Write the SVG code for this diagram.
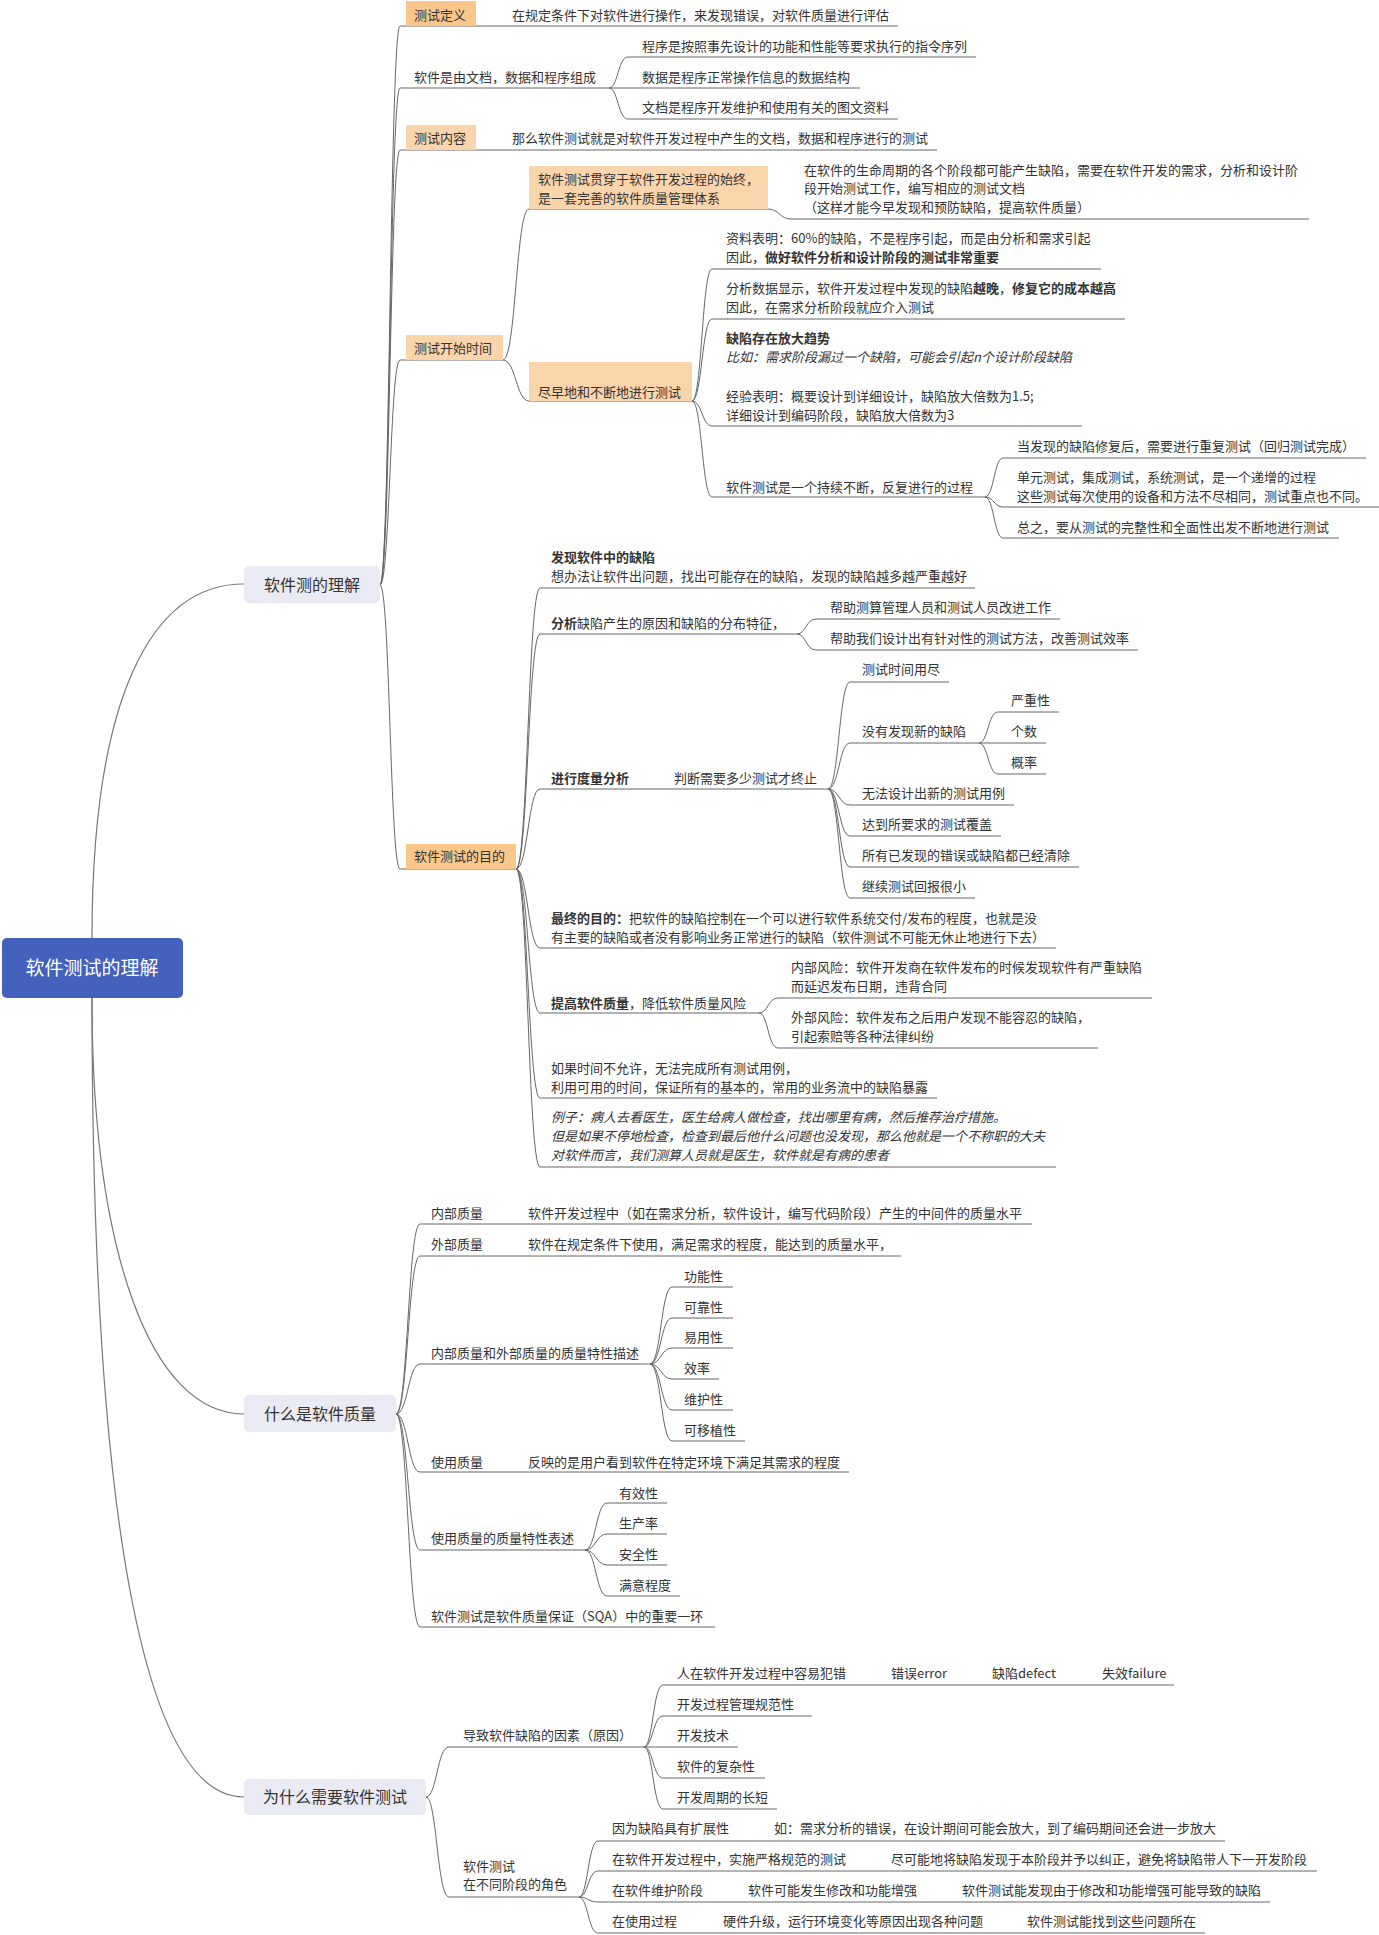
<svg xmlns="http://www.w3.org/2000/svg" width="1379" height="1935" viewBox="0 0 1379 1935">
<style>
text{font-family:"Noto Sans CJK SC","Noto Sans",sans-serif;fill:#333;font-size:13px}
.b{font-weight:bold}
.i{font-style:italic}
.l1{font-size:16px;text-anchor:middle}
.root{font-size:19px;fill:#fff;text-anchor:middle}
.c path,.u line{fill:none;stroke:#666;stroke-width:1}
.c .m{stroke:#777;stroke-width:1.2}
.bx1{fill:#e9eaf4}
.o1{fill:#fbc68b}
.o2{fill:#fad4aa}
</style>
<rect width="1379" height="1935" fill="#fff"/>
<g class="c" id="connectors">
<path class="m" d="M92 938 C92 700 150 584 244 584"/>
<path class="m" d="M92 998 C92 1250 150 1414 244 1414"/>
<path class="m" d="M92 998 C92 1550 150 1797 244 1797"/>
<path d="M380 585 C390 585 390 26 400 26"/>
<path d="M380 585 C390 585 390 88 400 88"/>
<path d="M380 585 C390 585 390 150 400 150"/>
<path d="M380 585 C390 585 390 360 400 360"/>
<path d="M380 585 C390 585 390 869 400 869"/>
<path d="M609 88 C618 88 618 57 628 57"/>
<path d="M609 88 H628"/>
<path d="M609 88 C618 88 618 119 628 119"/>
<path d="M503 360 C516 360 516 209 529 209"/>
<path d="M503 360 C516 360 516 401 529 401"/>
<path d="M768 209 C779 209 780 219 791 219"/>
<path d="M692 401 C702 401 702 269 712 269"/>
<path d="M692 401 C702 401 702 319 712 319"/>
<path d="M692 401 C702 401 702 426 712 426"/>
<path d="M692 401 C702 401 702 497 712 497"/>
<path d="M985 497 C994 497 994 458 1003 458"/>
<path d="M985 497 C994 497 994 507 1003 507"/>
<path d="M985 497 C994 497 994 538 1003 538"/>
<path d="M516 869 C528 869 528 588 540 588"/>
<path d="M516 869 C528 869 528 634 540 634"/>
<path d="M516 869 C528 869 528 789 540 789"/>
<path d="M516 869 C528 869 528 948 540 948"/>
<path d="M516 869 C528 869 528 1013 540 1013"/>
<path d="M516 869 C528 869 528 1098 540 1098"/>
<path d="M516 869 C528 869 528 1167 540 1167"/>
<path d="M797 634 C806 634 806 619 816 619"/>
<path d="M797 634 C806 634 806 650 816 650"/>
<path d="M828 789 C839 789 839 682 850 682"/>
<path d="M828 789 C839 789 839 743 850 743"/>
<path d="M828 789 C839 789 839 805 850 805"/>
<path d="M828 789 C839 789 839 836 850 836"/>
<path d="M828 789 C839 789 839 867 850 867"/>
<path d="M828 789 C839 789 839 898 850 898"/>
<path d="M979 743 C988 743 988 712 998 712"/>
<path d="M979 743 H998"/>
<path d="M979 743 C988 743 988 774 998 774"/>
<path d="M759 1013 C768 1013 768 998 778 998"/>
<path d="M759 1013 C768 1013 768 1048 778 1048"/>
<path d="M396 1414 C408 1414 408 1224 420 1224"/>
<path d="M396 1414 C408 1414 408 1256 420 1256"/>
<path d="M396 1414 C408 1414 408 1364 420 1364"/>
<path d="M396 1414 C408 1414 408 1472 420 1472"/>
<path d="M396 1414 C408 1414 408 1550 420 1550"/>
<path d="M396 1414 C408 1414 408 1627 420 1627"/>
<path d="M650 1364 C661 1364 661 1287 672 1287"/>
<path d="M650 1364 C661 1364 661 1318 672 1318"/>
<path d="M650 1364 C661 1364 661 1348 672 1348"/>
<path d="M650 1364 C661 1364 661 1379 672 1379"/>
<path d="M650 1364 C661 1364 661 1410 672 1410"/>
<path d="M650 1364 C661 1364 661 1441 672 1441"/>
<path d="M585 1550 C596 1550 596 1503 607 1503"/>
<path d="M585 1550 C596 1550 596 1534 607 1534"/>
<path d="M585 1550 C596 1550 596 1565 607 1565"/>
<path d="M585 1550 C596 1550 596 1596 607 1596"/>
<path d="M426 1797 C437 1797 437 1747 449 1747"/>
<path d="M426 1797 C437 1797 437 1897 449 1897"/>
<path d="M644 1747 C653 1747 653 1685 663 1685"/>
<path d="M644 1747 C653 1747 653 1716 663 1716"/>
<path d="M644 1747 H663"/>
<path d="M644 1747 C653 1747 653 1778 663 1778"/>
<path d="M644 1747 C653 1747 653 1809 663 1809"/>
<path d="M579 1897 C588 1897 588 1841 598 1841"/>
<path d="M579 1897 C588 1897 588 1871 598 1871"/>
<path d="M579 1897 C588 1897 588 1902 598 1902"/>
<path d="M579 1897 C588 1897 588 1933 598 1933"/>
</g>
<g id="root"><rect x="2" y="938" width="181" height="60" rx="5" fill="#4461bd"/><text class="root" x="92" y="975">软件测试的理解</text></g>
<g id="n1"><rect class="bx1" x="244" y="566" width="136" height="37" rx="5"/><text class="l1" x="312" y="591">软件测的理解</text></g>
<g id="n2"><rect class="bx1" x="244" y="1395" width="152" height="37" rx="5"/><text class="l1" x="320" y="1420">什么是软件质量</text></g>
<g id="n3"><rect class="bx1" x="244" y="1779" width="182" height="36" rx="5"/><text class="l1" x="335" y="1803">为什么需要软件测试</text></g>
<g class="u" id="underlines">
<line x1="400" y1="26" x2="898" y2="26"/>
<line x1="400" y1="88" x2="609" y2="88"/>
<line x1="628" y1="57" x2="976" y2="57"/>
<line x1="628" y1="88" x2="860" y2="88"/>
<line x1="628" y1="119" x2="898" y2="119"/>
<line x1="400" y1="150" x2="937" y2="150"/>
<line x1="400" y1="360" x2="503" y2="360"/>
<line x1="529" y1="209" x2="768" y2="209"/>
<line x1="791" y1="219" x2="1309" y2="219"/>
<line x1="529" y1="401" x2="692" y2="401"/>
<line x1="712" y1="269" x2="1101" y2="269"/>
<line x1="712" y1="319" x2="1125" y2="319"/>
<line x1="712" y1="426" x2="1082" y2="426"/>
<line x1="712" y1="497" x2="985" y2="497"/>
<line x1="1003" y1="458" x2="1366" y2="458"/>
<line x1="1003" y1="507" x2="1379" y2="507"/>
<line x1="1003" y1="538" x2="1339" y2="538"/>
<line x1="400" y1="869" x2="516" y2="869"/>
<line x1="540" y1="588" x2="975" y2="588"/>
<line x1="540" y1="634" x2="797" y2="634"/>
<line x1="816" y1="619" x2="1060" y2="619"/>
<line x1="816" y1="650" x2="1138" y2="650"/>
<line x1="540" y1="789" x2="828" y2="789"/>
<line x1="850" y1="682" x2="949" y2="682"/>
<line x1="850" y1="743" x2="979" y2="743"/>
<line x1="998" y1="712" x2="1059" y2="712"/>
<line x1="998" y1="743" x2="1046" y2="743"/>
<line x1="998" y1="774" x2="1046" y2="774"/>
<line x1="850" y1="805" x2="1014" y2="805"/>
<line x1="850" y1="836" x2="1001" y2="836"/>
<line x1="850" y1="867" x2="1079" y2="867"/>
<line x1="850" y1="898" x2="975" y2="898"/>
<line x1="540" y1="948" x2="1056" y2="948"/>
<line x1="540" y1="1013" x2="759" y2="1013"/>
<line x1="778" y1="998" x2="1152" y2="998"/>
<line x1="778" y1="1048" x2="1098" y2="1048"/>
<line x1="540" y1="1098" x2="937" y2="1098"/>
<line x1="540" y1="1167" x2="1056" y2="1167"/>
<line x1="420" y1="1224" x2="1032" y2="1224"/>
<line x1="420" y1="1256" x2="901" y2="1256"/>
<line x1="420" y1="1364" x2="650" y2="1364"/>
<line x1="672" y1="1287" x2="733" y2="1287"/>
<line x1="672" y1="1318" x2="733" y2="1318"/>
<line x1="672" y1="1348" x2="733" y2="1348"/>
<line x1="672" y1="1379" x2="719" y2="1379"/>
<line x1="672" y1="1410" x2="733" y2="1410"/>
<line x1="672" y1="1441" x2="745" y2="1441"/>
<line x1="420" y1="1472" x2="849" y2="1472"/>
<line x1="420" y1="1550" x2="585" y2="1550"/>
<line x1="607" y1="1503" x2="667" y2="1503"/>
<line x1="607" y1="1534" x2="667" y2="1534"/>
<line x1="607" y1="1565" x2="667" y2="1565"/>
<line x1="607" y1="1596" x2="680" y2="1596"/>
<line x1="420" y1="1627" x2="715" y2="1627"/>
<line x1="449" y1="1747" x2="644" y2="1747"/>
<line x1="663" y1="1685" x2="1174" y2="1685"/>
<line x1="663" y1="1716" x2="812" y2="1716"/>
<line x1="663" y1="1747" x2="738" y2="1747"/>
<line x1="663" y1="1778" x2="765" y2="1778"/>
<line x1="663" y1="1809" x2="777" y2="1809"/>
<line x1="449" y1="1897" x2="579" y2="1897"/>
<line x1="598" y1="1841" x2="1225" y2="1841"/>
<line x1="598" y1="1871" x2="1317" y2="1871"/>
<line x1="598" y1="1902" x2="1270" y2="1902"/>
<line x1="598" y1="1933" x2="1205" y2="1933"/>
</g>
<g id="ceshidingyi"><rect class="o1" x="406" y="1" width="70" height="25"/><text x="414" y="20">测试定义</text></g>
<g id="dingyi-c"><text x="512" y="20">在规定条件下对软件进行操作，来发现错误，对软件质量进行评估</text></g>
<g id="zucheng"><text x="414" y="82">软件是由文档，数据和程序组成</text></g>
<g id="chengxu"><text x="642" y="51">程序是按照事先设计的功能和性能等要求执行的指令序列</text></g>
<g id="shuju"><text x="642" y="82">数据是程序正常操作信息的数据结构</text></g>
<g id="wendang"><text x="642" y="112">文档是程序开发维护和使用有关的图文资料</text></g>
<g id="neirong"><rect class="o2" x="406" y="125" width="70" height="25"/><text x="414" y="143">测试内容</text></g>
<g id="neirong-c"><text x="512" y="143">那么软件测试就是对软件开发过程中产生的文档，数据和程序进行的测试</text></g>
<g id="kaishi"><rect class="o2" x="406" y="335" width="97" height="25"/><text x="414" y="353">测试开始时间</text></g>
<g id="guanchuan"><rect class="o2" x="529" y="166" width="239" height="43"/><text x="538" y="184">软件测试贯穿于软件开发过程的始终，</text><text x="538" y="203">是一套完善的软件质量管理体系</text></g>
<g id="shengming"><text x="804" y="175">在软件的生命周期的各个阶段都可能产生缺陷，需要在软件开发的需求，分析和设计阶</text><text x="804" y="193">段开始测试工作，编写相应的测试文档</text><text x="804" y="212">（这样才能今早发现和预防缺陷，提高软件质量）</text></g>
<g id="jinzao"><rect class="o2" x="529" y="362" width="163" height="39"/><text x="538" y="397">尽早地和不断地进行测试</text></g>
<g id="ziliao"><text x="726" y="243">资料表明：60%的缺陷，不是程序引起，而是由分析和需求引起</text><text x="726" y="262">因此，<tspan class="b">做好软件分析和设计阶段的测试非常重要</tspan></text></g>
<g id="fenxishuju"><text x="726" y="293">分析数据显示，软件开发过程中发现的缺陷<tspan class="b">越晚</tspan>，<tspan class="b">修复它的成本越高</tspan></text><text x="726" y="312">因此，在需求分析阶段就应介入测试</text></g>
<g id="fangda"><text x="726" y="343" class="b">缺陷存在放大趋势</text><text x="726" y="362" class="i">比如：需求阶段漏过一个缺陷，可能会引起n个设计阶段缺陷</text><text x="726" y="401">经验表明：概要设计到详细设计，缺陷放大倍数为1.5;</text><text x="726" y="420">详细设计到编码阶段，缺陷放大倍数为3</text></g>
<g id="chixu"><text x="726" y="492">软件测试是一个持续不断，反复进行的过程</text></g>
<g id="huigui"><text x="1017" y="451">当发现的缺陷修复后，需要进行重复测试（回归测试完成）</text></g>
<g id="dizeng"><text x="1017" y="482">单元测试，集成测试，系统测试，是一个递增的过程</text><text x="1017" y="501">这些测试每次使用的设备和方法不尽相同，测试重点也不同。</text></g>
<g id="zongzhi"><text x="1017" y="532">总之，要从测试的完整性和全面性出发不断地进行测试</text></g>
<g id="mudi"><rect class="o1" x="406" y="844" width="110" height="25"/><text x="414" y="861">软件测试的目的</text></g>
<g id="faxian"><text x="551" y="562" class="b">发现软件中的缺陷</text><text x="551" y="581">想办法让软件出问题，找出可能存在的缺陷，发现的缺陷越多越严重越好</text></g>
<g id="fenxi"><text x="551" y="628"><tspan class="b">分析</tspan>缺陷产生的原因和缺陷的分布特征，</text></g>
<g id="bangzhu1"><text x="830" y="612">帮助测算管理人员和测试人员改进工作</text></g>
<g id="bangzhu2"><text x="830" y="643">帮助我们设计出有针对性的测试方法，改善测试效率</text></g>
<g id="duliang"><text x="551" y="783" class="b">进行度量分析</text></g>
<g id="panduan"><text x="674" y="783">判断需要多少测试才终止</text></g>
<g id="yongjin"><text x="862" y="674">测试时间用尽</text></g>
<g id="meiyou"><text x="862" y="736">没有发现新的缺陷</text></g>
<g id="yanzhong"><text x="1011" y="705">严重性</text></g>
<g id="geshu"><text x="1011" y="736">个数</text></g>
<g id="gailv"><text x="1011" y="767">概率</text></g>
<g id="wufa"><text x="862" y="798">无法设计出新的测试用例</text></g>
<g id="fugai"><text x="862" y="829">达到所要求的测试覆盖</text></g>
<g id="qingchu"><text x="862" y="860">所有已发现的错误或缺陷都已经清除</text></g>
<g id="huibao"><text x="862" y="891">继续测试回报很小</text></g>
<g id="zuizhong"><text x="551" y="923"><tspan class="b">最终的目的：</tspan>把软件的缺陷控制在一个可以进行软件系统交付/发布的程度，也就是没</text><text x="551" y="942">有主要的缺陷或者没有影响业务正常进行的缺陷（软件测试不可能无休止地进行下去）</text></g>
<g id="tigao"><text x="551" y="1008"><tspan class="b">提高软件质量</tspan>，降低软件质量风险</text></g>
<g id="neibufengxian"><text x="791" y="972">内部风险：软件开发商在软件发布的时候发现软件有严重缺陷</text><text x="791" y="991">而延迟发布日期，违背合同</text></g>
<g id="waibufengxian"><text x="791" y="1022">外部风险：软件发布之后用户发现不能容忍的缺陷，</text><text x="791" y="1041">引起索赔等各种法律纠纷</text></g>
<g id="ruguo"><text x="551" y="1073">如果时间不允许，无法完成所有测试用例，</text><text x="551" y="1092">利用可用的时间，保证所有的基本的，常用的业务流中的缺陷暴露</text></g>
<g id="lizi"><text x="551" y="1122" class="i">例子：病人去看医生，医生给病人做检查，找出哪里有病，然后推荐治疗措施。</text><text x="551" y="1141" class="i">但是如果不停地检查，检查到最后他什么问题也没发现，那么他就是一个不称职的大夫</text><text x="551" y="1160" class="i">对软件而言，我们测算人员就是医生，软件就是有病的患者</text></g>
<g id="neibuzhiliang"><text x="431" y="1218">内部质量</text><text x="528" y="1218">软件开发过程中（如在需求分析，软件设计，编写代码阶段）产生的中间件的质量水平</text></g>
<g id="waibuzhiliang"><text x="431" y="1249">外部质量</text><text x="528" y="1249">软件在规定条件下使用，满足需求的程度，能达到的质量水平，</text></g>
<g id="texing"><text x="431" y="1358">内部质量和外部质量的质量特性描述</text></g>
<g id="gongneng"><text x="684" y="1281">功能性</text></g>
<g id="kekao"><text x="684" y="1312">可靠性</text></g>
<g id="yiyong"><text x="684" y="1342">易用性</text></g>
<g id="xiaolv"><text x="684" y="1373">效率</text></g>
<g id="weihu"><text x="684" y="1404">维护性</text></g>
<g id="keyizhi"><text x="684" y="1435">可移植性</text></g>
<g id="shiyong"><text x="431" y="1467">使用质量</text><text x="528" y="1467">反映的是用户看到软件在特定环境下满足其需求的程度</text></g>
<g id="shiyongtexing"><text x="431" y="1543">使用质量的质量特性表述</text></g>
<g id="youxiao"><text x="619" y="1498">有效性</text></g>
<g id="shengchan"><text x="619" y="1528">生产率</text></g>
<g id="anquan"><text x="619" y="1559">安全性</text></g>
<g id="manyi"><text x="619" y="1590">满意程度</text></g>
<g id="sqa"><text x="431" y="1621">软件测试是软件质量保证（SQA）中的重要一环</text></g>
<g id="yinsu"><text x="463" y="1740">导致软件缺陷的因素（原因）</text></g>
<g id="fancuo"><text x="677" y="1678">人在软件开发过程中容易犯错</text><text x="891" y="1678">错误error</text><text x="992" y="1678">缺陷defect</text><text x="1102" y="1678">失效failure</text></g>
<g id="guifan"><text x="677" y="1709">开发过程管理规范性</text></g>
<g id="jishu"><text x="677" y="1740">开发技术</text></g>
<g id="fuza"><text x="677" y="1771">软件的复杂性</text></g>
<g id="zhouqi"><text x="677" y="1802">开发周期的长短</text></g>
<g id="juese"><text x="463" y="1871">软件测试</text><text x="463" y="1889">在不同阶段的角色</text></g>
<g id="kuozhan"><text x="612" y="1833">因为缺陷具有扩展性</text><text x="774" y="1833">如：需求分析的错误，在设计期间可能会放大，到了编码期间还会进一步放大</text></g>
<g id="yange"><text x="612" y="1864">在软件开发过程中，实施严格规范的测试</text><text x="891" y="1864">尽可能地将缺陷发现于本阶段并予以纠正，避免将缺陷带人下一开发阶段</text></g>
<g id="weihujieduan"><text x="612" y="1895">在软件维护阶段</text><text x="748" y="1895">软件可能发生修改和功能增强</text><text x="962" y="1895">软件测试能发现由于修改和功能增强可能导致的缺陷</text></g>
<g id="shiyongguocheng"><text x="612" y="1926">在使用过程</text><text x="723" y="1926">硬件升级，运行环境变化等原因出现各种问题</text><text x="1027" y="1926">软件测试能找到这些问题所在</text></g>
</svg>
